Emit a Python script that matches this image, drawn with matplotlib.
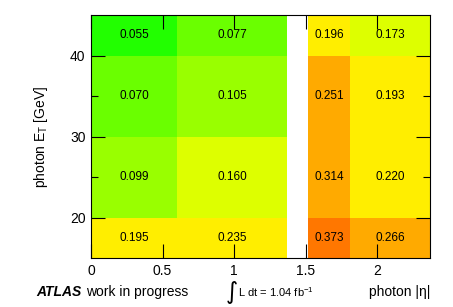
import numpy as np
import matplotlib
matplotlib.use("Agg")
import matplotlib.pyplot as plt
from matplotlib.colors import ListedColormap, BoundaryNorm

plt.rcParams['font.family'] = ['Liberation Sans', 'DejaVu Sans']

# bin edges
eta_edges = [0.0, 0.6, 1.37, 1.52, 1.81, 2.37]
et_edges = [15, 20, 30, 40, 45]

# values per ET row (bottom to top), per eta bin; crack bin is empty
vals = np.array([
    [0.195, 0.235, np.nan, 0.373, 0.266],
    [0.099, 0.160, np.nan, 0.314, 0.220],
    [0.070, 0.105, np.nan, 0.251, 0.193],
    [0.055, 0.077, np.nan, 0.196, 0.173],
])

levels = [0.0, 0.06, 0.09, 0.13, 0.18, 0.25, 0.35, 0.5]
colors = ["#22ff00", "#6aff00", "#99ff00", "#ddff00", "#ffee00", "#ffaa00", "#ff7700"]
cmap = ListedColormap(colors)
norm = BoundaryNorm(levels, cmap.N)

fig = plt.figure(figsize=(4.53, 3.07), dpi=100)
ax = fig.add_axes([91/453, 49/307, 339/453, 243/307])

ax.pcolormesh(eta_edges, et_edges, np.ma.masked_invalid(vals), cmap=cmap, norm=norm)

xc = 0.5 * (np.array(eta_edges[1:]) + np.array(eta_edges[:-1]))
yc = 0.5 * (np.array(et_edges[1:]) + np.array(et_edges[:-1]))
for i, y in enumerate(yc):
    for j, x in enumerate(xc):
        v = vals[i, j]
        if np.isnan(v):
            continue
        ax.text(x, y, "%.3f" % v, ha="center", va="center", fontsize=8.5)

ax.set_xlim(0, 2.37)
ax.set_ylim(15, 45)
ax.set_xticks([0, 0.5, 1, 1.5, 2])
ax.set_xticklabels(["0", "0.5", "1", "1.5", "2"])
ax.set_yticks([20, 30, 40])
ax.set_yticks([25, 35], minor=True)
ax.tick_params(which="both", direction="in", top=True, right=True, labelsize=10, pad=4)
ax.tick_params(which="major", length=10, width=0.8)
ax.tick_params(which="minor", length=5, width=0.8)

ax.set_ylabel("photon E$_\\mathregular{T}$ [GeV]", fontsize=10, labelpad=14)

fig.text(36/453, 1 - 292/307, "ATLAS", fontsize=10, fontweight="bold", style="italic",
         va="center", ha="left")
fig.text(86/453, 1 - 292/307, "work in progress", fontsize=10, va="center", ha="left")
fig.text(225/453, 1 - 279/307, "$\\int$", fontsize=12, va="top", ha="left")
fig.text(238/453, 1 - 292/307, "L dt = 1.04 fb$^{\\mathregular{-1}}$", fontsize=8,
         va="center", ha="left")
fig.text(430/453, 1 - 292/307, "photon |η|", fontsize=10, va="center", ha="right")

fig.savefig("out.png", dpi=100)
